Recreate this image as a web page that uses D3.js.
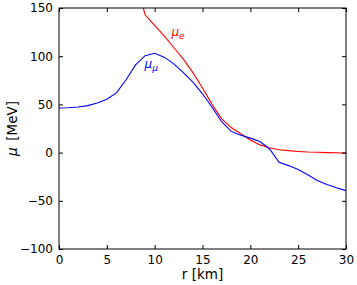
<!DOCTYPE html>
<html>
<head>
<meta charset="utf-8">
<script src="https://cdn.jsdelivr.net/npm/d3@7"></script>
<style>
  body { margin: 0; background: #fff; }
  text { font-family: "DejaVu Sans", sans-serif; }
</style>
</head>
<body>
<div id="chart"></div>
<script>
// radius [km] and chemical potentials [MeV]
const radius = d3.range(0, 31);
const muE = [null, null, null, null, null, null, null, null, 180, 143, 132, 121, 109, 97, 83, 67,
             50, 35, 26, 19.5, 13, 8, 5, 3, 2, 1.2, 0.6, 0.3, 0, -0.2, -0.5];
const muMu = [46.3, 46.6, 47.3, 48.7, 51.5, 55.3, 62, 75.3, 90.9, 100.5, 103, 99, 92, 83, 73, 61,
              47, 32, 22, 18, 15, 11.5, 4, -10, -13.5, -17.5, -23, -29, -33, -36.5, -39.5];
const xTicks = [0, 5, 10, 15, 20, 25, 30];
const yTicks = [-100, -50, 0, 50, 100, 150];

const W = 357, H = 285;
const margin = { top: 8, right: 11, bottom: 36, left: 59 };
const width = W - margin.left - margin.right;
const height = H - margin.top - margin.bottom;

const svg = d3.select("#chart").append("svg")
    .attr("width", W)
    .attr("height", H);

const g = svg.append("g")
    .attr("transform", "translate(" + margin.left + "," + margin.top + ")");

const x = d3.scaleLinear().domain([0, 30]).range([0, width]);
const y = d3.scaleLinear().domain([-100, 150]).range([height, 0]);

const fmt = d => d < 0 ? "\u2212" + Math.abs(d) : "" + d;

svg.append("defs").append("clipPath").attr("id", "clip")
  .append("rect").attr("width", width).attr("height", height);

// lines
const line = d3.line()
    .defined(d => d[1] != null)
    .x(d => x(d[0]))
    .y(d => y(d[1]));

const lines = g.append("g").attr("clip-path", "url(#clip)");

lines.append("path")
    .datum(radius.map((r, i) => [r, muE[i]]))
    .attr("d", line)
    .style("fill", "none")
    .style("stroke", "#ff0000")
    .style("stroke-width", 1.1);

lines.append("path")
    .datum(radius.map((r, i) => [r, muMu[i]]))
    .attr("d", line)
    .style("fill", "none")
    .style("stroke", "#0000ff")
    .style("stroke-width", 1.1);

// axes with inward ticks on all four sides
const tickLen = 4;
g.append("g")
    .attr("transform", "translate(0," + height + ")")
    .call(d3.axisBottom(x).tickValues(xTicks).tickSizeInner(-tickLen).tickSizeOuter(0).tickPadding(6).tickFormat(fmt));
g.append("g")
    .call(d3.axisTop(x).tickValues(xTicks).tickSizeInner(-tickLen).tickSizeOuter(0).tickFormat(""));
g.append("g")
    .call(d3.axisLeft(y).tickValues(yTicks).tickSizeInner(-tickLen).tickSizeOuter(0).tickPadding(6).tickFormat(fmt));
g.append("g")
    .attr("transform", "translate(" + width + ",0)")
    .call(d3.axisRight(y).tickValues(yTicks).tickSizeInner(-tickLen).tickSizeOuter(0).tickFormat(""));

g.selectAll(".domain").remove();
g.selectAll(".tick line").style("stroke", "#000").style("stroke-width", 1);
g.selectAll(".tick text")
    .style("font-size", "12px")
    .style("font-family", "'DejaVu Sans', sans-serif")
    .style("fill", "#000");

g.append("rect")
    .attr("width", width)
    .attr("height", height)
    .style("fill", "none")
    .style("stroke", "#000")
    .style("stroke-width", 1);

// axis labels
svg.append("text")
    .attr("x", margin.left + width / 2)
    .attr("y", 279)
    .attr("text-anchor", "middle")
    .style("font-size", "13.5px")
    .text("r [km]");

const yl = svg.append("text")
    .attr("transform", "translate(17," + (margin.top + height / 2) + ") rotate(-90)")
    .attr("text-anchor", "middle")
    .style("font-size", "13.5px");
yl.append("tspan").style("font-style", "italic").text("\u03bc");
yl.append("tspan").text("\u2002[MeV]");

// curve labels
function curveLabel(px, py, sub, color) {
  const t = g.append("text")
      .attr("x", x(px))
      .attr("y", y(py))
      .style("fill", color)
      .style("font-size", "12px")
      .style("font-style", "italic");
  t.append("tspan").text("\u03bc");
  t.append("tspan").attr("dy", 3).style("font-size", "9px").text(sub);
}
curveLabel(11.75, 120.5, "e", "#ff0000");
curveLabel(8.95, 88, "\u03bc", "#0000ff");
</script>
</body>
</html>
